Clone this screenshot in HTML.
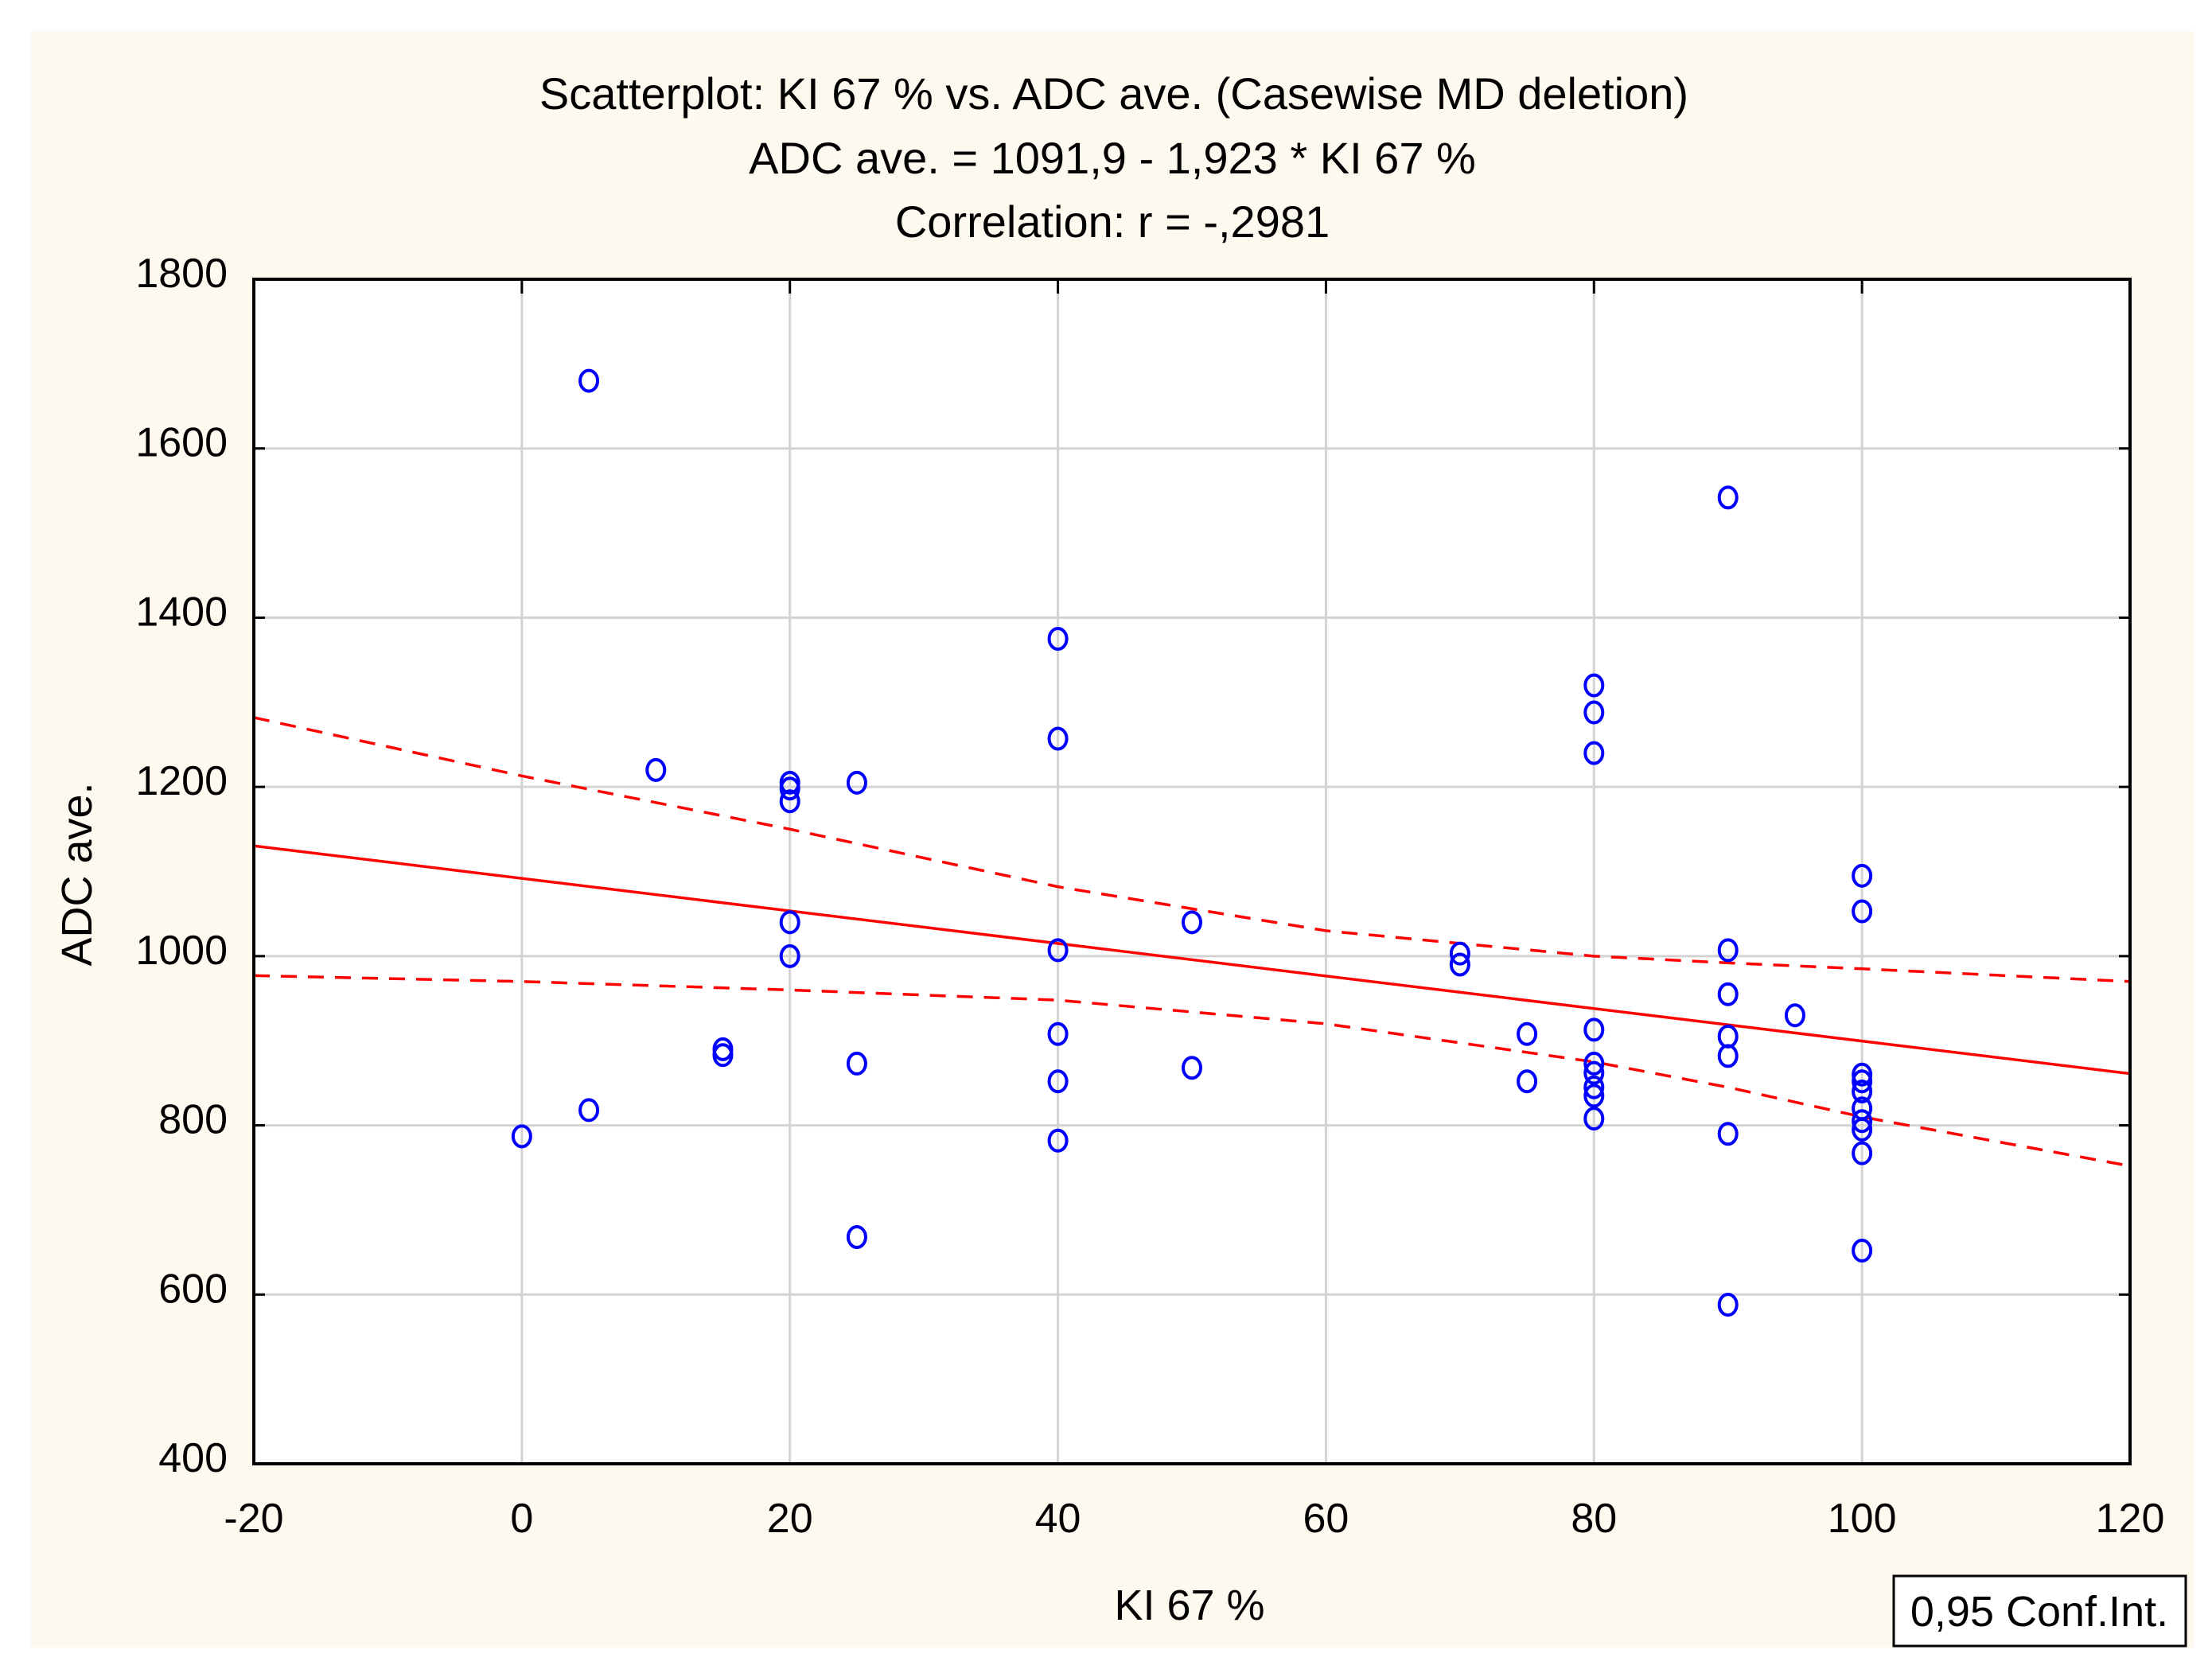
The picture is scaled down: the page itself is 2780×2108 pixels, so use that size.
<!DOCTYPE html>
<html><head><meta charset="utf-8"><style>
html,body{margin:0;padding:0;background:#fff;}
svg{display:block;font-family:"Liberation Sans",Arial,sans-serif;}
</style></head><body>
<svg id="chart" width="2780" height="2108" viewBox="0 0 2780 2108">
<rect x="39" y="39" width="2718" height="2032" fill="#fef9ee"/>
<g font-size="56" fill="#000" text-anchor="middle">
<text x="1400" y="137">Scatterplot: KI 67 % vs. ADC ave. (Casewise MD deletion)</text>
<text x="1398" y="218">ADC ave. = 1091,9 - 1,923  * KI 67 %</text>
<text x="1398" y="298">Correlation: r = -,2981</text>
</g>
<rect x="319" y="351" width="2358" height="1489" fill="#fff"/>
<g id="grid"></g>
<g id="lines"></g>
<g id="points"></g>
<rect x="319" y="351" width="2358" height="1489" fill="none" stroke="#000" stroke-width="4"/>
<g id="ticks"></g>
<text x="1495" y="2036" font-size="54" text-anchor="middle">KI 67 %</text>
<text transform="translate(115,1099) rotate(-90)" font-size="54" text-anchor="middle">ADC ave.</text>
<g>
<rect x="2380" y="1981" width="367" height="88" fill="#fff" stroke="#000" stroke-width="3"/>
<text x="2563" y="2044" font-size="54" text-anchor="middle">0,95 Conf.Int.</text>
</g>
</svg>
<script>
const xTicks=[-20,0,20,40,60,80,100,120];
const yTicks=[400,600,800,1000,1200,1400,1600,1800];
const kiValues=[5,90,40,80,80,40,80,10,20,20,20,25,100,100,20,50,20,40,70,70,90,90,95,80,40,75,90,90,15,15,25,50,80,80,80,80,80,100,100,100,100,100,100,100,40,75,0,5,40,90,25,100,90];
const adcValues=[1680,1542,1375,1320,1288,1257,1240,1220,1205,1198,1183,1205,1095,1053,1040,1040,1000,1007,1003,990,1007,955,930,913,908,908,905,882,890,883,873,868,873,862,845,835,808,860,852,840,820,805,795,767,852,852,787,818,782,790,668,652,588];
const fitIntercept=1091.9;
const fitSlope=-1.923;
const ciX=[-20,0,20,40,60,80,90,100,120];
const ciUpper=[1282,1213,1150,1082,1030,1000,992,985,970];
const ciLower=[977,970,960,948,920,875,845,810,752];
const X0=319,X1=2677,Y0=1840,Y1=351;
const sx=v=>X0+(v+20)/140*(X1-X0);
const sy=v=>Y0-(v-400)/1400*(Y0-Y1);
const NS='http://www.w3.org/2000/svg';
function mk(t,a,p){const e=document.createElementNS(NS,t);for(const k in a)e.setAttribute(k,a[k]);p.appendChild(e);return e;}
const grid=document.getElementById('grid'),ticks=document.getElementById('ticks'),lines=document.getElementById('lines'),pts=document.getElementById('points');
xTicks.forEach(v=>{
 if(v>-20&&v<120){const g=mk('line',{x1:sx(v),x2:sx(v),y1:Y1,y2:Y0,stroke:'#d3d3d3','stroke-width':3},grid);
 
 
 const t1=mk('line',{x1:sx(v),x2:sx(v),y1:Y1,y2:Y1+18,stroke:'#000','stroke-width':3},ticks);
 
 }
 const t=mk('text',{x:sx(v),y:1926,'font-size':52,'text-anchor':'middle'},ticks);t.textContent=v;
 
 
});
yTicks.forEach(v=>{
 if(v>400&&v<1800){const g=mk('line',{x1:X0,x2:X1,y1:sy(v),y2:sy(v),stroke:'#d3d3d3','stroke-width':3},grid);
 
 
 const t1=mk('line',{x1:X0,x2:X0+14,y1:sy(v),y2:sy(v),stroke:'#000','stroke-width':3},ticks);
 
 
 const t2=mk('line',{x1:X1-14,x2:X1,y1:sy(v),y2:sy(v),stroke:'#000','stroke-width':3},ticks);
 
 }
 const t=mk('text',{x:286,y:sy(v)+10,'font-size':52,'text-anchor':'end'},ticks);t.textContent=v;
 
 
});
const fl=mk('line',{x1:sx(-20),y1:sy(fitIntercept+fitSlope*-20),x2:sx(120),y2:sy(fitIntercept+fitSlope*120),stroke:'#ff0000','stroke-width':3.5},lines);


function ciPath(arr){return arr.map((v,i)=>(i?'L':'M')+sx(ciX[i])+','+sy(v)).join(' ');}
const up=mk('path',{d:ciPath(ciUpper),fill:'none',stroke:'#ff0000','stroke-width':3.5,'stroke-dasharray':'20 14'},lines);


const lo=mk('path',{d:ciPath(ciLower),fill:'none',stroke:'#ff0000','stroke-width':3.5,'stroke-dasharray':'20 14'},lines);


kiValues.forEach((k,i)=>{
 const c=mk('ellipse',{cx:sx(k),cy:sy(adcValues[i]),rx:11,ry:13,fill:'none',stroke:'#0000ff','stroke-width':4},pts);
 
 
});
</script>
</body></html>
